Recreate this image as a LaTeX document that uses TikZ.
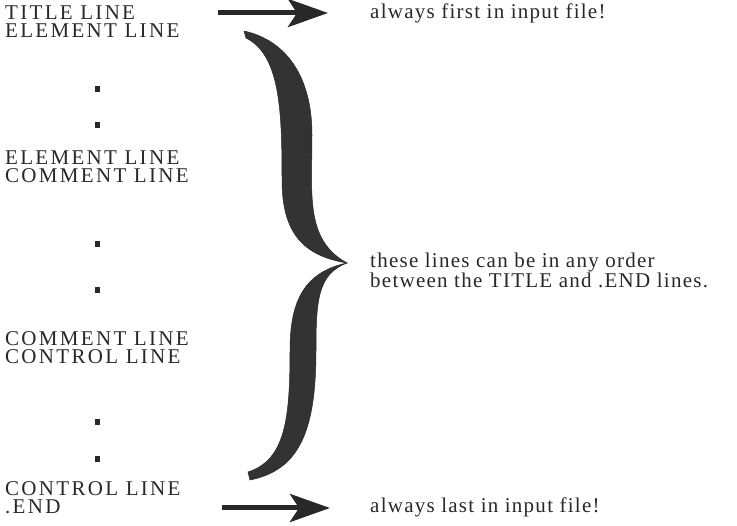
\documentclass[tikz,border=0pt]{standalone}
\usepackage{fontspec}
\setmainfont{Liberation Serif}
\newfontfamily\leftfont[LetterSpace=11]{Liberation Serif}
\newfontfamily\rightfont[LetterSpace=6]{Liberation Serif}
\usetikzlibrary{arrows.meta}
\definecolor{ink}{RGB}{40,40,40}
\tikzset{
  lefttext/.style={anchor=base west, inner sep=0pt, text height=14pt, text depth=0pt, font=\leftfont\fontsize{21}{21}\selectfont, text=ink},
  righttext/.style={anchor=base west, inner sep=0pt, font=\rightfont\fontsize{21}{19}\selectfont, text=ink, align=left},
  dotmark/.style={fill=ink, minimum width=5pt, minimum height=6pt, inner sep=0pt, draw=none},
  bigarrow/.style={line width=5pt, draw=ink, -{Stealth[length=40pt,width=28pt,inset=9pt,fill=ink]}},
  bracefill/.style={fill=ink!95, draw=ink, line width=0.5pt}
}
\begin{document}
\begin{tikzpicture}[x=1pt,y=-1pt]
\useasboundingbox (0,0) rectangle (737,526);
% left column
\node[lefttext] (t1) at (5,20) {TITLE LINE};
\node[lefttext] (e1) at (5,38) {ELEMENT LINE};
\node[dotmark] (d1) at (97,89) {};
\node[dotmark] (d2) at (97,125) {};
\node[lefttext] (e2) at (5,165) {ELEMENT LINE};
\node[lefttext] (c1) at (5,183) {COMMENT LINE};
\node[dotmark] (d3) at (97,244) {};
\node[dotmark] (d4) at (97,290) {};
\node[lefttext] (c2) at (5,346) {COMMENT LINE};
\node[lefttext] (k1) at (5,364) {CONTROL LINE};
\node[dotmark] (d5) at (97,422) {};
\node[dotmark] (d6) at (97,459) {};
\node[lefttext] (k2) at (5,496) {CONTROL LINE};
\node[lefttext] (en) at (5,514) {.END};
% right column
\node[righttext] (r1) at (370,19) {always first in input file!};
\node[righttext] (r2) at (370,288) {these lines can be in any order\\between the TITLE and .END lines.};
\node[righttext] (r3) at (370,513) {always last in input file!};
% arrows
\coordinate (a1s) at (218,13);
\coordinate (a1e) at (328,13);
\coordinate (a2s) at (222,508);
\coordinate (a2e) at (330,508);
\draw[bigarrow] (a1s) -- (a1e);
\draw[bigarrow] (a2s) -- (a2e);
% brace
\coordinate (tip) at (347,263);
\fill[bracefill] (244,31) .. controls (285,40) and (312,75) .. (312,135)
  .. controls (312,195) and (305,240) .. (tip)
  .. controls (305,256) and (282,235) .. (282,180)
  .. controls (282,110) and (280,55) .. (246,38) -- cycle;
\fill[bracefill] (tip) .. controls (305,272) and (290,300) .. (290,350)
  .. controls (290,420) and (285,460) .. (248,472) -- (250,480)
  .. controls (300,470) and (316,430) .. (316,350)
  .. controls (316,300) and (318,274) .. (tip) -- cycle;
\end{tikzpicture}
\end{document}
